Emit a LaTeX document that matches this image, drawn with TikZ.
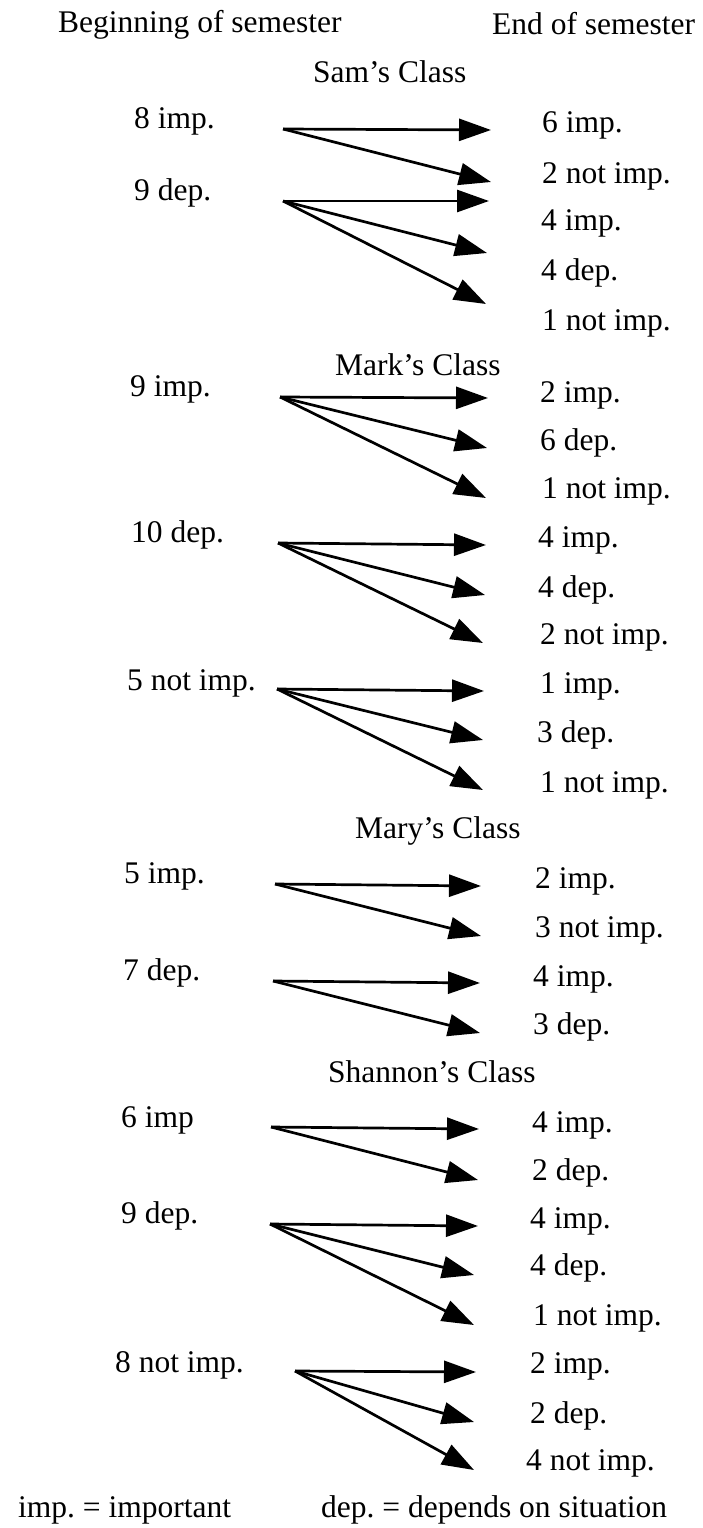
\documentclass[tikz,border=0pt]{standalone}
\usepackage{fontspec}
\setmainfont{Liberation Serif}
\usetikzlibrary{arrows.meta}
\frenchspacing
\begin{document}
\begin{tikzpicture}[x=1pt,y=-1pt,
  lab/.style={anchor=base west, inner sep=0pt, font=\fontsize{31.5}{36}\selectfont},
  flow/.style={-{Triangle[length=32pt,width=22pt]}, line width=2.7pt}]
\useasboundingbox (0,0) rectangle (702,1528);

% column headings
\node[lab] (hbeg) at (58,33) {Beginning of semester};
\node[lab] (hend) at (492,35) {End of semester};

% ---------------- Sam's class ----------------
\node[lab] (samT) at (313,82) {Sam’s Class};
\node[lab] (sa1) at (134,128) {8 imp.};
\node[lab] (sa2) at (134,200) {9 dep.};
\node[lab] (sb1) at (542,132) {6 imp.};
\node[lab] (sb2) at (542,183) {2 not imp.};
\node[lab] (sb3) at (541,230) {4 imp.};
\node[lab] (sb4) at (541,280) {4 dep.};
\node[lab] (sb5) at (542,330) {1 not imp.};
\coordinate (sas1) at (283,129);
\coordinate (sas2) at (283,201);
\coordinate (sat1) at (491,130);
\coordinate (sat2) at (491,182);
\coordinate (sat3) at (489,201);
\coordinate (sat4) at (487,253);
\coordinate (sat5) at (486,304);
\draw[flow] (sas1) -- (sat1);
\draw[flow] (sas1) -- (sat2);
\draw[flow] (sas2) -- (sat3);
\draw[flow] (sas2) -- (sat4);
\draw[flow] (sas2) -- (sat5);

% ---------------- Mark's class ----------------
\node[lab] (maT) at (335,375) {Mark’s Class};
\node[lab] (ma1) at (130,396) {9 imp.};
\node[lab] (ma2) at (131,542) {10 dep.};
\node[lab] (ma3) at (127,690) {5 not imp.};
\node[lab] (mb1) at (540,402) {2 imp.};
\node[lab] (mb2) at (540,450) {6 dep.};
\node[lab] (mb3) at (542,498) {1 not imp.};
\node[lab] (mb4) at (538,547) {4 imp.};
\node[lab] (mb5) at (538,597) {4 dep.};
\node[lab] (mb6) at (540,644) {2 not imp.};
\node[lab] (mb7) at (540,693) {1 imp.};
\node[lab] (mb8) at (537,742) {3 dep.};
\node[lab] (mb9) at (540,792) {1 not imp.};
\coordinate (mas1) at (280,397);
\coordinate (mas2) at (278,543);
\coordinate (mas3) at (277,689);
\coordinate (mat1) at (488,398);
\coordinate (mat2) at (487,448);
\coordinate (mat3) at (486,498);
\coordinate (mat4) at (486,545);
\coordinate (mat5) at (485,595);
\coordinate (mat6) at (483,643);
\coordinate (mat7) at (484,691);
\coordinate (mat8) at (483,740);
\coordinate (mat9) at (483,790);
\draw[flow] (mas1) -- (mat1);
\draw[flow] (mas1) -- (mat2);
\draw[flow] (mas1) -- (mat3);
\draw[flow] (mas2) -- (mat4);
\draw[flow] (mas2) -- (mat5);
\draw[flow] (mas2) -- (mat6);
\draw[flow] (mas3) -- (mat7);
\draw[flow] (mas3) -- (mat8);
\draw[flow] (mas3) -- (mat9);

% ---------------- Mary's class ----------------
\node[lab] (myT) at (355,838) {Mary’s Class};
\node[lab] (my1) at (124,883) {5 imp.};
\node[lab] (my2) at (123,980) {7 dep.};
\node[lab] (myb1) at (535,888) {2 imp.};
\node[lab] (myb2) at (535,937) {3 not imp.};
\node[lab] (myb3) at (533,986) {4 imp.};
\node[lab] (myb4) at (533,1034) {3 dep.};
\coordinate (mys1) at (275,884);
\coordinate (mys2) at (273,981);
\coordinate (myt1) at (481,886);
\coordinate (myt2) at (481,936);
\coordinate (myt3) at (480,983);
\coordinate (myt4) at (480,1033);
\draw[flow] (mys1) -- (myt1);
\draw[flow] (mys1) -- (myt2);
\draw[flow] (mys2) -- (myt3);
\draw[flow] (mys2) -- (myt4);

% ---------------- Shannon's class ----------------
\node[lab] (shT) at (328,1082) {Shannon’s Class};
\node[lab] (sh1) at (121,1127) {6 imp};
\node[lab] (sh2) at (121,1223) {9 dep.};
\node[lab] (sh3) at (115,1372) {8 not imp.};
\node[lab] (shb1) at (532,1132) {4 imp.};
\node[lab] (shb2) at (532,1180) {2 dep.};
\node[lab] (shb3) at (530,1228) {4 imp.};
\node[lab] (shb4) at (530,1275) {4 dep.};
\node[lab] (shb5) at (533,1325) {1 not imp.};
\node[lab] (shb6) at (530,1373) {2 imp.};
\node[lab] (shb7) at (530,1423) {2 dep.};
\node[lab] (shb8) at (526,1470) {4 not imp.};
\coordinate (shs1) at (271,1127);
\coordinate (shs2) at (270,1224);
\coordinate (shs3) at (295,1371);
\coordinate (sht1) at (479,1129);
\coordinate (sht2) at (478,1180);
\coordinate (sht3) at (478,1226);
\coordinate (sht4) at (474,1275);
\coordinate (sht5) at (474,1325);
\coordinate (sht6) at (476,1372);
\coordinate (sht7) at (474,1422);
\coordinate (sht8) at (474,1470);
\draw[flow] (shs1) -- (sht1);
\draw[flow] (shs1) -- (sht2);
\draw[flow] (shs2) -- (sht3);
\draw[flow] (shs2) -- (sht4);
\draw[flow] (shs2) -- (sht5);
\draw[flow] (shs3) -- (sht6);
\draw[flow] (shs3) -- (sht7);
\draw[flow] (shs3) -- (sht8);

% legend
\node[lab] (keyimp) at (18,1517) {imp. = important};
\node[lab] (keydep) at (321,1517) {dep. = depends on situation};
\end{tikzpicture}
\end{document}
